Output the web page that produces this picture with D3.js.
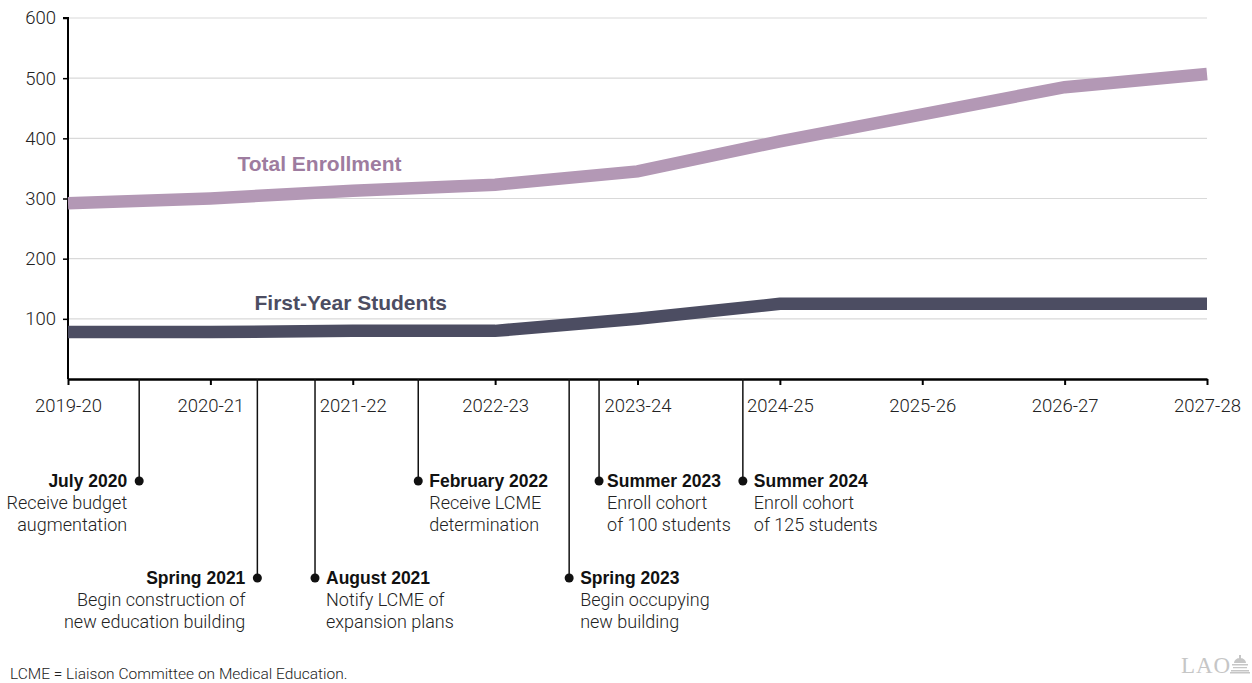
<!DOCTYPE html>
<html>
<head>
<meta charset="utf-8">
<script src="https://cdn.jsdelivr.net/npm/d3@7"></script>
<style>
	body { margin: 0; background: #fff; }
	svg { display: block; font-family: 'Liberation Sans', Arial, sans-serif; }
	.light { font-family: Roboto, 'Liberation Sans', sans-serif; font-weight: 300; }
</style>
</head>
<body>
<svg width="1252" height="683"></svg>
<script>

// fiscal years on the x axis
const years = [ '2019-20', '2020-21', '2021-22', '2022-23', '2023-24', '2024-25', '2025-26', '2026-27', '2027-28' ]

// enrollment
const totalEnrollment = [ 292, 300, 313, 323, 345, 395, 440, 485, 507 ]
const firstYear = [ 78, 78, 80, 80, 100, 125, 125, 125, 125 ]

const yTicks = [ 100, 200, 300, 400, 500, 600 ]

// milestones, placed in "year index" units (0 = 2019-20)
const eventDates = [ 'July 2020', 'Spring 2021', 'August 2021', 'February 2022', 'Spring 2023', 'Summer 2023', 'Summer 2024' ]
const eventWhen = [ 0.5, 1.33, 1.735, 2.46, 3.52, 3.73, 4.74 ]
const eventText = [
	[ 'Receive budget', 'augmentation' ],
	[ 'Begin construction of', 'new education building' ],
	[ 'Notify LCME of', 'expansion plans' ],
	[ 'Receive LCME', 'determination' ],
	[ 'Begin occupying', 'new building' ],
	[ 'Enroll cohort', 'of 100 students' ],
	[ 'Enroll cohort', 'of 125 students' ]
]

// layout of the milestone labels: row (0 upper, 1 lower) and which side of the dot
const eventRow = [ 0, 1, 1, 0, 1, 0, 0 ]
const eventSide = [ 'left', 'left', 'right', 'right', 'right', 'right', 'right' ]

const svg = d3.select( 'svg' ),
	margin = { top: 18, right: 45, left: 68 },
	axisY = 379,
	width = 1252

const x = d3.scaleLinear()
	.domain( [ 0, years.length - 1 ] )
	.range( [ margin.left, width - margin.right ] )

const y = d3.scaleLinear()
	.domain( [ 0, 600 ] )
	.range( [ axisY, margin.top ] )

// gridlines
svg.append( 'g' )
	.selectAll( 'line' )
	.data( yTicks )
	.join( 'line' )
	.attr( 'x1', x( 0 ) )
	.attr( 'x2', x( years.length - 1 ) )
	.attr( 'y1', d => y( d ) )
	.attr( 'y2', d => y( d ) )
	.attr( 'stroke', '#d9d9d9' )
	.attr( 'stroke-width', 1.2 )

// y axis
const yAxis = svg.append( 'g' )
	.attr( 'transform', `translate(${ margin.left },0)` )
	.call( d3.axisLeft( y ).tickValues( yTicks ).tickSize( 5 ).tickPadding( 7 ) )

yAxis.select( '.domain' ).attr( 'stroke-width', 2 ).attr( 'd', `M0,${ axisY }V${ margin.top }h-5` )
yAxis.selectAll( '.tick line' ).attr( 'stroke-width', 1.5 )
yAxis.selectAll( 'text' )
	.attr( 'class', 'light' )
	.attr( 'font-size', 18.5 )
	.attr( 'fill', '#222' )

// x axis
const xAxis = svg.append( 'g' )
	.attr( 'transform', `translate(0,${ axisY })` )
	.call( d3.axisBottom( x ).tickValues( d3.range( years.length ) ).tickFormat( i => years[ i ] ).tickSize( 6 ).tickPadding( 14 ).tickSizeOuter( 0 ) )

xAxis.select( '.domain' ).attr( 'stroke-width', 2.5 )
xAxis.selectAll( '.tick line' ).attr( 'stroke-width', 2 )
xAxis.selectAll( 'text' )
	.attr( 'class', 'light' )
	.attr( 'font-size', 18.5 )
	.attr( 'fill', '#222' )

// lines
const line = d3.line()
	.x( ( d, i ) => x( i ) )
	.y( d => y( d ) )

const series = [
	{ name: 'Total Enrollment', values: totalEnrollment, color: '#b398b5', label: '#9e7c9f', at: [ 1.19, 345 ] },
	{ name: 'First-Year Students', values: firstYear, color: '#4c4d62', label: '#4c4d62', at: [ 1.31, 114 ] }
]

svg.append( 'g' )
	.selectAll( 'path' )
	.data( series )
	.join( 'path' )
	.attr( 'd', d => line( d.values ) )
	.attr( 'fill', 'none' )
	.attr( 'stroke', d => d.color )
	.attr( 'stroke-width', 12.5 )

svg.append( 'g' )
	.selectAll( 'text' )
	.data( series )
	.join( 'text' )
	.attr( 'x', d => x( d.at[ 0 ] ) )
	.attr( 'y', d => y( d.at[ 1 ] ) )
	.attr( 'font-size', 21 )
	.attr( 'font-weight', 'bold' )
	.attr( 'fill', d => d.label )
	.text( d => d.name )

// milestones
const rowY = [ 481, 578 ]
const labelX = i => eventSide[ i ] === 'left' ? -12 : ( i === 5 ? 8 : 11 )

const ev = svg.append( 'g' )
	.selectAll( 'g' )
	.data( eventDates )
	.join( 'g' )
	.attr( 'transform', ( d, i ) => `translate(${ x( eventWhen[ i ] ) },0)` )

ev.append( 'line' )
	.attr( 'y1', axisY )
	.attr( 'y2', ( d, i ) => rowY[ eventRow[ i ] ] )
	.attr( 'stroke', '#111' )
	.attr( 'stroke-width', 1.5 )

ev.append( 'circle' )
	.attr( 'cy', ( d, i ) => rowY[ eventRow[ i ] ] )
	.attr( 'r', 4.5 )
	.attr( 'fill', '#111' )

const label = ev.append( 'text' )
	.attr( 'y', ( d, i ) => rowY[ eventRow[ i ] ] + 6 )
	.attr( 'text-anchor', ( d, i ) => eventSide[ i ] === 'left' ? 'end' : 'start' )
	.attr( 'fill', '#111' )

label.append( 'tspan' )
	.attr( 'x', ( d, i ) => labelX( i ) )
	.attr( 'font-weight', 'bold' )
	.attr( 'font-size', 17.5 )
	.text( d => d )

label.each( function( d, i ) {
	const t = d3.select( this )
	eventText[ i ].forEach( s => {
		t.append( 'tspan' )
			.attr( 'class', 'light' )
			.attr( 'x', labelX( i ) )
			.attr( 'dy', 22 )
			.attr( 'font-size', 18 )
			.attr( 'fill', '#222' )
			.text( s )
	} )
} )

// footnote
svg.append( 'text' )
	.attr( 'class', 'light' )
	.attr( 'x', 10 )
	.attr( 'y', 679 )
	.attr( 'font-size', 15.5 )
	.attr( 'fill', '#222' )
	.text( 'LCME = Liaison Committee on Medical Education.' )

// LAO mark
const logo = svg.append( 'g' ).attr( 'transform', 'translate(1181,673)' ).attr( 'fill', '#c6c6c6' )
logo.append( 'text' )
	.attr( 'font-family', "'Liberation Serif', 'DejaVu Serif', serif" )
	.attr( 'font-size', 23 )
	.attr( 'textLength', 49 )
	.text( 'LAO' )
logo.append( 'path' )
	.attr( 'd', 'M53,-10 a6,5 0 0 1 12,0 z M58,-18 h2 v5 h-2 z M51,-9 h16 v1.5 h-16 z M52,-6 h14 v1.2 h-14 z M50,-3 h18 v1.5 h-18 z M49,-1 h20 v1.5 h-20 z' )

</script>
</body>
</html>
